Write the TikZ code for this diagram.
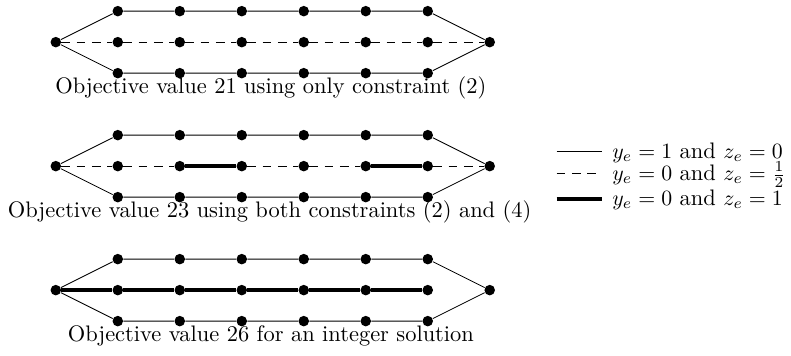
\documentclass[tikz,border=0pt]{standalone}
\usetikzlibrary{positioning}
\tikzset{dot/.style={circle,fill=black,inner sep=0,minimum size=0.17cm}}
\tikzset{zero/.style={line width=0.4pt}}
\tikzset{half/.style={line width=0.4pt,dash pattern=on 4pt off 3pt}}
\tikzset{full/.style={line width=2pt}}
\tikzset{legtext/.style={anchor=base west,inner sep=0}}
\tikzset{ladder/.pic={
        code={
        \node[dot] (-l) at (0,0) {};
        \node[dot] (-r) at (7,0) {};
        \foreach \i in {1,...,6} {
            \node[dot] (-t\i) at (\i,0.5) {};
            \node[dot] (-m\i) at (\i,0) {};
            \node[dot] (-b\i) at (\i,-0.5) {};
        }
        \draw[zero] (-l) -- (-t1) -- (-t2) -- (-t3) -- (-t4) -- (-t5) -- (-t6) -- (-r);
        \draw[zero] (-l) -- (-b1) -- (-b2) -- (-b3) -- (-b4) -- (-b5) -- (-b6) -- (-r);
    }
  }
}

\begin{document}
\begin{tikzpicture}[every node/.append style={font=\fontsize{10.3pt}{12.4pt}\selectfont}]
\useasboundingbox (-0.9,0.68) rectangle (11.86,-5.06);
% Constraint 2 only
\path (0,0) pic (g1) {ladder};
\draw[half] (g1-l) -- (g1-m1) -- (g1-m2) -- (g1-m3) -- (g1-m4) -- (g1-m5) -- (g1-m6) -- (g1-r);
\node (cap1) at (3.47,-0.74) {Objective value 21 using only constraint (2)};
% Constraints 2 and 4
\path (0,-2) pic (g2) {ladder};
\draw[half] (g2-l) -- (g2-m1) -- (g2-m2);
\draw[full] (g2-m2) -- (g2-m3);
\draw[half] (g2-m3) -- (g2-m4) -- (g2-m5);
\draw[full] (g2-m5) -- (g2-m6);
\draw[half] (g2-m6) -- (g2-r);
\node (cap2) at (3.45,-2.74) {Objective value 23 using both constraints (2) and (4)};
% Integer solution
\path (0,-4) pic (g3) {ladder};
\draw[full] (g3-l) -- (g3-m1) -- (g3-m2) -- (g3-m3) -- (g3-m4) -- (g3-m5) -- (g3-m6);
\node (cap3) at (3.47,-4.74) {Objective value 26 for an integer solution};
% Legend
\coordinate (lega) at (8.08,-1.76);
\coordinate (legb) at (8.08,-2.12);
\coordinate (legc) at (8.08,-2.525);
\coordinate[right=0.73cm of lega] (lega2);
\coordinate[right=0.73cm of legb] (legb2);
\coordinate[right=0.73cm of legc] (legc2);
\node[legtext] (leg1) at (8.97,-1.87) {$y_e = 1$ and $z_e = 0$};
\node[legtext] (leg2) at (8.97,-2.23) {$y_e = 0$ and $z_e = \frac{1}{2}$};
\node[legtext] (leg3) at (8.97,-2.635) {$y_e = 0$ and $z_e = 1$};
\draw[zero] (lega) -- (lega2);
\draw[half] (legb) -- (legb2);
\draw[full] (legc) -- (legc2);
\end{tikzpicture}
\end{document}
